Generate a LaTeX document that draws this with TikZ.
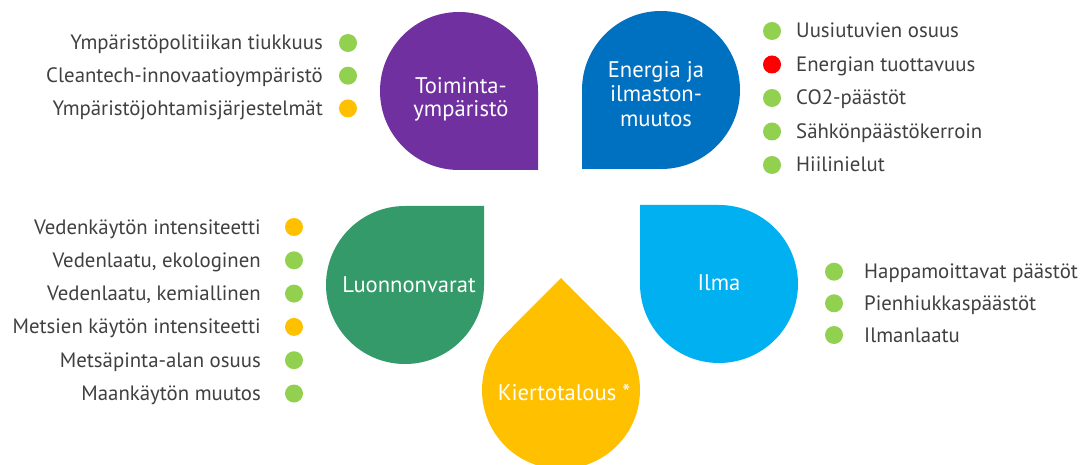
\documentclass[tikz,border=0pt]{standalone}
\usepackage{fontspec}
\setmainfont{PT Sans}
\definecolor{cPurple}{HTML}{7030A0}
\definecolor{cBlue}{HTML}{0070C0}
\definecolor{cGreen}{HTML}{359A69}
\definecolor{cSky}{HTML}{00B0F0}
\definecolor{cGold}{HTML}{FFC000}
\definecolor{dGreen}{HTML}{92D050}
\definecolor{dRed}{HTML}{FF0000}
\definecolor{txt}{HTML}{404040}
\tikzset{
  dot/.style={circle, minimum size=18pt, inner sep=0pt, draw=none},
  itemL/.style={anchor=base east, inner sep=0pt, text=txt, font=\fontsize{20.8}{24}\selectfont},
  itemR/.style={anchor=base west, inner sep=0pt, text=txt, font=\fontsize{20.8}{24}\selectfont},
  inner/.style={anchor=base, inner sep=0pt, text=white, font=\fontsize{22.6}{27}\selectfont}
}
\begin{document}
\begin{tikzpicture}[x=1pt,y=-1pt]
\useasboundingbox (0,0) rectangle (1081,465);
% drops
\fill[cPurple] (538,91) -- (538,170) -- (459,170) arc[start angle=90, end angle=360, radius=79] -- cycle;
\fill[cBlue] (661,169) -- (582,169) -- (582,90) arc[start angle=180, end angle=450, radius=79] -- cycle;
\fill[cGreen] (484,285) -- (484,206) -- (405,206) arc[start angle=270, end angle=0, radius=79] -- cycle;
\fill[cSky] (640,284) -- (640,205) -- (719,205) arc[start angle=270, end angle=540, radius=79] -- cycle;
\fill[cGold] (561,278) -- ({561+55.86},{390-55.86}) arc[start angle=315, end angle=585, radius=79] -- cycle;
% inner labels
\node[inner] (t1a) at (461,93.3) {Toiminta-};
\node[inner] (t1b) at (461,116.7) {ympäristö};
\node[inner] (t2a) at (656,77.3) {Energia ja};
\node[inner] (t2b) at (656,101.7) {ilmaston-};
\node[inner] (t2c) at (656,126.7) {muutos};
\node[inner] (t3) at (409,292.3) {Luonnonvarat};
\node[inner] (t4) at (719,290.3) {Ilma};
\node[inner] (t5) at (564,400.7) {Kiertotalous *};
% top-left list
\node[dot, fill=dGreen] (a1) at (348,43) {};
\node[dot, fill=dGreen] (a2) at (348,75.7) {};
\node[dot, fill=cGold] (a3) at (348,108.4) {};
\node[itemL] (la1) at (323,50) {Ympäristöpolitiikan tiukkuus};
\node[itemL] (la2) at (323,82.7) {Cleantech-innovaatioympäristö};
\node[itemL] (la3) at (323,115.4) {Ympäristöjohtamisjärjestelmät};
% top-right list
\node[dot, fill=dGreen] (b1) at (772,31) {};
\node[dot, fill=dRed] (b2) at (772,64.5) {};
\node[dot, fill=dGreen] (b3) at (772,98) {};
\node[dot, fill=dGreen] (b4) at (772,131.5) {};
\node[dot, fill=dGreen] (b5) at (772,165) {};
\node[itemR] (lb1) at (796,38) {Uusiutuvien osuus};
\node[itemR] (lb2) at (796,71.5) {Energian tuottavuus};
\node[itemR] (lb3) at (796,105) {CO2-päästöt};
\node[itemR] (lb4) at (796,138.5) {Sähkönpäästökerroin};
\node[itemR] (lb5) at (796,172) {Hiilinielut};
% bottom-left list
\node[dot, fill=cGold] (c1) at (294,227) {};
\node[dot, fill=dGreen] (c2) at (294,260.3) {};
\node[dot, fill=dGreen] (c3) at (294,293.6) {};
\node[dot, fill=cGold] (c4) at (294,326.9) {};
\node[dot, fill=dGreen] (c5) at (294,360.2) {};
\node[dot, fill=dGreen] (c6) at (294,393.5) {};
\node[itemL] (lc1) at (261,234) {Vedenkäytön intensiteetti};
\node[itemL] (lc2) at (261,267.3) {Vedenlaatu, ekologinen};
\node[itemL] (lc3) at (261,300.6) {Vedenlaatu, kemiallinen};
\node[itemL] (lc4) at (261,333.9) {Metsien käytön intensiteetti};
\node[itemL] (lc5) at (261,367.2) {Metsäpinta-alan osuus};
\node[itemL] (lc6) at (261,400.5) {Maankäytön muutos};
% bottom-right list
\node[dot, fill=dGreen] (e1) at (834,271.7) {};
\node[dot, fill=dGreen] (e2) at (834,303.3) {};
\node[dot, fill=dGreen] (e3) at (834,335) {};
\node[itemR] (le1) at (864,278.7) {Happamoittavat päästöt};
\node[itemR] (le2) at (864,310.3) {Pienhiukkaspäästöt};
\node[itemR] (le3) at (864,342) {Ilmanlaatu};
\end{tikzpicture}
\end{document}
